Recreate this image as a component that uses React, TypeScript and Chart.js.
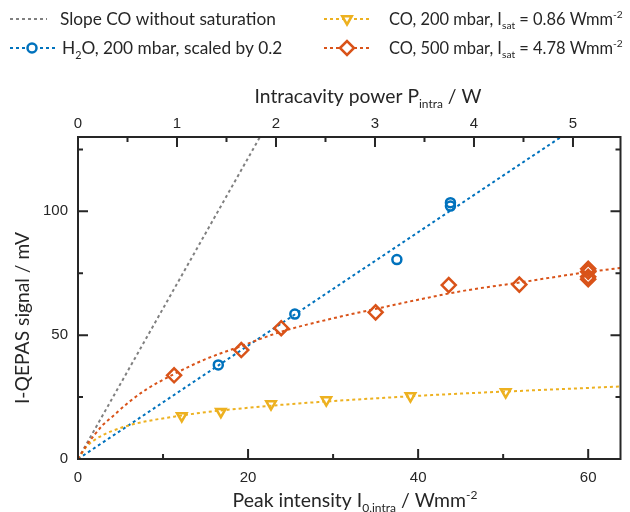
import React, { useEffect, useRef } from 'react';
import { Chart, registerables } from 'chart.js';

Chart.register(...registerables);

// ---------- axes ----------
const intensityMax = 63.8;
const powerMax = 5.48;
const signalMax = 130;
const intensityTickValues = [0, 10, 20, 30, 40, 50, 60];
const intensityTickLabels = [0, 20, 40, 60];
const powerTickValues = [0, 0.5, 1, 1.5, 2, 2.5, 3, 3.5, 4, 4.5, 5];
const powerTickLabels = [0, 1, 2, 3, 4, 5];
const signalTickValues = [0, 25, 50, 75, 100, 125];
const signalTickLabels = [0, 50, 100];

// ---------- measured points ----------
const h2oIntensity = [16.5, 25.5, 37.5, 43.8, 43.8];
const h2oSignal = [38.0, 58.5, 80.5, 103.5, 102.1];

const co200Intensity = [12.2, 16.8, 22.7, 29.2, 39.1, 50.3];
const co200Signal = [17.4, 19.1, 22.2, 23.8, 25.4, 27.0];

const co500Intensity = [11.3, 19.2, 23.9, 35.0, 43.6, 51.9, 60.0, 60.0, 60.0, 60.0];
const co500Signal = [33.8, 44.0, 52.8, 59.2, 70.2, 70.4, 76.8, 75.6, 73.6, 72.6];

// ---------- fitted curves ----------
const slopeIntensity = [0, 21.4];
const slopeSignal = [0, 130];

const h2oFitIntensity = [0, 56.8];
const h2oFitSignal = [0, 130];

const fitIntensity = [0, 1, 2, 3, 4, 6, 8, 11.3, 15, 19.2, 24, 30, 35, 40, 45, 52, 60, 64];
const co200FitSignal = [0, 5.0, 7.8, 9.8, 11.3, 13.6, 15.2, 17.1, 18.9, 20.4, 21.9, 23.4, 24.5, 25.5, 26.4, 27.5, 28.7, 29.3];
const co500FitSignal = [0, 5.5, 10, 14, 17, 23, 28, 34.3, 40.3, 45.6, 51.5, 56.8, 60.6, 64.3, 67.7, 71.3, 75.5, 77.2];

// ---------- styling ----------
const GRAY = '#808080';
const BLUE = '#0072BD';
const YELLOW = '#EDB120';
const ORANGE = '#D95319';
const INK = '#262626';
const TEXT_FONT = 'Lato, "Open Sans", sans-serif';
const TICK_FONT = '"Liberation Sans", Arial, sans-serif';

type Seg = { t: string; s?: 'sub' | 'sup' };

const legendItems: { segs: Seg[]; color: string; marker: string }[] = [
  { segs: [{ t: 'Slope CO without saturation' }], color: GRAY, marker: 'none' },
  { segs: [{ t: 'H' }, { t: '2', s: 'sub' }, { t: 'O, 200 mbar, scaled by 0.2' }], color: BLUE, marker: 'circle' },
  { segs: [{ t: 'CO, 200 mbar, I' }, { t: 'sat', s: 'sub' }, { t: ' = 0.86 Wmm' }, { t: '-2', s: 'sup' }], color: YELLOW, marker: 'triangle' },
  { segs: [{ t: 'CO, 500 mbar, I' }, { t: 'sat', s: 'sub' }, { t: ' = 4.78 Wmm' }, { t: '-2', s: 'sup' }], color: ORANGE, marker: 'diamond' },
];

const topTitle: Seg[] = [{ t: 'Intracavity power P' }, { t: 'intra', s: 'sub' }, { t: ' / W' }];
const bottomTitle: Seg[] = [{ t: 'Peak intensity I' }, { t: '0,intra', s: 'sub' }, { t: ' / Wmm' }, { t: '-2', s: 'sup' }];
const leftTitle: Seg[] = [{ t: 'I-QEPAS signal / mV' }];

const pts = (xs: number[], ys: number[]) => xs.map((x, i) => ({ x, y: ys[i] }));

function segWidth(ctx: CanvasRenderingContext2D, segs: Seg[], size: number) {
  let w = 0;
  for (const sg of segs) {
    ctx.font = `${sg.s ? size * 0.62 : size}px ${TEXT_FONT}`;
    w += ctx.measureText(sg.t).width;
  }
  return w;
}
function fitSize(ctx: CanvasRenderingContext2D, segs: Seg[], target: number) {
  return (100 * target) / segWidth(ctx, segs, 100);
}
function drawRich(ctx: CanvasRenderingContext2D, segs: Seg[], x: number, y: number, size: number, align: 'left' | 'center') {
  const w = segWidth(ctx, segs, size);
  let cx = align === 'center' ? x - w / 2 : x;
  ctx.textAlign = 'left';
  ctx.textBaseline = 'alphabetic';
  for (const sg of segs) {
    const fs = sg.s ? size * 0.62 : size;
    ctx.font = `${fs}px ${TEXT_FONT}`;
    const dy = sg.s === 'sub' ? size * 0.25 : sg.s === 'sup' ? -size * 0.42 : 0;
    ctx.fillText(sg.t, cx, y + dy);
    cx += ctx.measureText(sg.t).width;
  }
}
function drawMarker(ctx: CanvasRenderingContext2D, kind: string, x: number, y: number, color: string) {
  ctx.save();
  ctx.strokeStyle = color;
  ctx.lineWidth = 2.5;
  ctx.setLineDash([]);
  ctx.beginPath();
  if (kind === 'circle') {
    ctx.arc(x, y, 4.5, 0, Math.PI * 2);
  } else if (kind === 'triangle') {
    const r = 5.5;
    ctx.moveTo(x, y + r);
    ctx.lineTo(x + r * Math.sin((2 * Math.PI) / 3), y - r * 0.5);
    ctx.lineTo(x - r * Math.sin((2 * Math.PI) / 3), y - r * 0.5);
    ctx.closePath();
  } else if (kind === 'diamond') {
    const r = 7;
    ctx.moveTo(x - r, y);
    ctx.lineTo(x, y - r);
    ctx.lineTo(x + r, y);
    ctx.lineTo(x, y + r);
    ctx.closePath();
  }
  if (kind !== 'none') {
    ctx.fillStyle = '#ffffff';
    ctx.fill();
    ctx.stroke();
  }
  ctx.restore();
}

const overlay = {
  id: 'overlay',
  afterDatasetsDraw(chart: any) {
    const ctx: CanvasRenderingContext2D = chart.ctx;
    const { left, right, top, bottom } = chart.chartArea;
    const sx = chart.scales.x;
    const sx2 = chart.scales.x2;
    const sy = chart.scales.y;
    ctx.save();
    ctx.strokeStyle = INK;
    ctx.lineWidth = 2;
    ctx.setLineDash([]);
    ctx.strokeRect(left, top, right - left, bottom - top);
    ctx.beginPath();
    for (const v of intensityTickValues) {
      const p = sx.getPixelForValue(v);
      const len = intensityTickLabels.includes(v) ? 10 : 5;
      ctx.moveTo(p, bottom);
      ctx.lineTo(p, bottom - len);
    }
    for (const v of powerTickValues) {
      const p = sx2.getPixelForValue(v);
      const len = powerTickLabels.includes(v) ? 10 : 5;
      ctx.moveTo(p, top);
      ctx.lineTo(p, top + len);
    }
    for (const v of signalTickValues) {
      const p = sy.getPixelForValue(v);
      const len = signalTickLabels.includes(v) ? 10 : 5;
      ctx.moveTo(left, p);
      ctx.lineTo(left + len, p);
      ctx.moveTo(right, p);
      ctx.lineTo(right - len, p);
    }
    ctx.stroke();
    ctx.restore();
  },
  afterDraw(chart: any) {
    const ctx: CanvasRenderingContext2D = chart.ctx;
    ctx.save();
    ctx.fillStyle = INK;
    // axis titles
    const tSize = fitSize(ctx, topTitle, 227);
    drawRich(ctx, topTitle, 368, 103, tSize, 'center');
    const bSize = fitSize(ctx, bottomTitle, 245);
    drawRich(ctx, bottomTitle, 355, 507, bSize, 'center');
    ctx.save();
    ctx.translate(29, 318);
    ctx.rotate(-Math.PI / 2);
    drawRich(ctx, leftTitle, 0, 0, tSize, 'center');
    ctx.restore();

    // legend
    const lSizeLeft = fitSize(ctx, legendItems[0].segs, 216);
    const lSizeRight = fitSize(ctx, legendItems[2].segs, 234);
    const sizes = [lSizeLeft, lSizeLeft, lSizeRight, lSizeRight];
    const rows = [19, 48, 19, 48];
    const lineX = [[10, 47], [10, 56], [324, 370], [324, 370]];
    const markX = [0, 32, 347, 347];
    const textX = [60, 62, 389, 389];
    legendItems.forEach((it, i) => {
      const y = rows[i];
      ctx.save();
      ctx.strokeStyle = it.color;
      ctx.lineWidth = 2;
      ctx.setLineDash([3, 3]);
      ctx.beginPath();
      ctx.moveTo(lineX[i][0], y);
      ctx.lineTo(lineX[i][1], y);
      ctx.stroke();
      ctx.restore();
      drawMarker(ctx, it.marker, markX[i], y, it.color);
      ctx.fillStyle = INK;
      drawRich(ctx, it.segs, textX[i], y + sizes[i] * 0.36, sizes[i], 'left');
    });
    ctx.restore();
  },
};

const tickFont = { family: TICK_FONT, size: 15 };
const isIn = (arr: number[], v: number) => arr.some((a) => Math.abs(a - v) < 1e-6);

export default function App() {
  const ref = useRef<HTMLCanvasElement>(null);
  useEffect(() => {
    if (!ref.current) return;
    const lineDs = (data: any[], color: string, smooth: boolean) => ({
      data,
      showLine: true,
      borderColor: color,
      borderWidth: 2,
      borderDash: [3, 3],
      pointRadius: 0,
      fill: false,
      cubicInterpolationMode: smooth ? 'monotone' : 'default',
      xAxisID: 'x',
      yAxisID: 'y',
    });
    const pointDs = (data: any[], color: string, style: string, radius: number, rotation = 0) => ({
      data,
      showLine: false,
      pointStyle: style,
      pointRadius: radius,
      pointRotation: rotation,
      pointBorderWidth: 2.5,
      pointBorderColor: color,
      pointBackgroundColor: 'rgba(255,255,255,0)',
      xAxisID: 'x',
      yAxisID: 'y',
    });
    const chart = new Chart(ref.current, {
      type: 'scatter',
      data: {
        datasets: [
          pointDs(pts(co500Intensity, co500Signal), ORANGE, 'rectRot', 7),
          pointDs(pts(co200Intensity, co200Signal), YELLOW, 'triangle', 5.5, 180),
          pointDs(pts(h2oIntensity, h2oSignal), BLUE, 'circle', 4.5),
          lineDs(pts(fitIntensity, co500FitSignal), ORANGE, true),
          lineDs(pts(fitIntensity, co200FitSignal), YELLOW, true),
          lineDs(pts(h2oFitIntensity, h2oFitSignal), BLUE, false),
          lineDs(pts(slopeIntensity, slopeSignal), GRAY, false),
        ] as any,
      },
      options: {
        animation: false,
        responsive: false,
        devicePixelRatio: 1,
        layout: { padding: { left: 0, right: 5, top: 0, bottom: 0 } },
        plugins: { legend: { display: false }, tooltip: { enabled: false } },
        scales: {
          x: {
            type: 'linear',
            position: 'bottom',
            min: 0,
            max: intensityMax,
            afterFit: (s: any) => { s.height = 53; },
            grid: { display: false, drawTicks: false },
            border: { display: false },
            ticks: {
              stepSize: 10,
              includeBounds: false,
              autoSkip: false,
              maxRotation: 0,
              padding: 10,
              font: tickFont,
              color: INK,
              callback: (v: any) => (isIn(intensityTickLabels, v) ? String(v) : ''),
            },
          },
          x2: {
            type: 'linear',
            position: 'top',
            min: 0,
            max: powerMax,
            afterFit: (s: any) => { s.height = 137; },
            grid: { display: false, drawTicks: false },
            border: { display: false },
            ticks: {
              stepSize: 0.5,
              includeBounds: false,
              autoSkip: false,
              maxRotation: 0,
              padding: 4,
              font: tickFont,
              color: INK,
              callback: (v: any) => (isIn(powerTickLabels, v) ? String(Math.round(v)) : ''),
            },
          },
          y: {
            type: 'linear',
            position: 'left',
            min: 0,
            max: signalMax,
            afterFit: (s: any) => { s.width = 78; },
            grid: { display: false, drawTicks: false },
            border: { display: false },
            ticks: {
              stepSize: 25,
              includeBounds: false,
              autoSkip: false,
              padding: 10,
              font: tickFont,
              color: INK,
              callback: (v: any) => (isIn(signalTickLabels, v) ? String(v) : ''),
            },
          },
        },
      } as any,
      plugins: [overlay],
    });
    return () => chart.destroy();
  }, []);
  return (
    <div style={{ position: 'absolute', left: 0, top: 0, width: 630, height: 512, background: '#fff' }}>
      <canvas ref={ref} width={630} height={512} style={{ display: 'block' }} />
    </div>
  );
}
